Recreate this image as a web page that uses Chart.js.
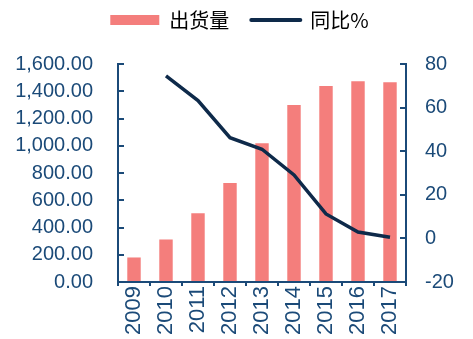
<!DOCTYPE html>
<html>
<head>
<meta charset="utf-8">
<script src="https://cdn.jsdelivr.net/npm/chart.js@4.4.1/dist/chart.umd.min.js"></script>
<style>
  html, body { margin: 0; padding: 0; background: #fff; }
  #wrap { width: 473px; height: 339px; }
</style>
</head>
<body>
<div id="wrap"><canvas id="chart" width="473" height="339"></canvas></div>
<script>
const years = ['2009', '2010', '2011', '2012', '2013', '2014', '2015', '2016', '2017']
const shipments = [180, 312, 504, 727, 1018, 1299, 1439, 1473, 1466]
const yoy = [null, 74.6, 63.2, 46.2, 40.9, 29.1, 11.2, 2.9, 0.5]
const leftTicks = [0, 1600, 200]
const rightTicks = [-20, 80, 20]

const AXIS = '#1B4A78'
const BAR = '#F47E7C'
const LINE = '#0E2A4A'

Chart.defaults.font.family = "'Liberation Sans', Arial, sans-serif"
Chart.defaults.color = AXIS

// legend spacing: keep the item row near the top, chart area starts lower
const legendSpacer = {
  id: 'legendSpacer',
  beforeInit(chart) {
    const legend = chart.legend
    const fit = legend.fit
    legend.fit = function () {
      fit.call(this)
      this.height = 76
    }
  },
}

new Chart(document.getElementById('chart'), {
  type: 'bar',
  data: {
    labels: years,
    datasets: [
      {
        type: 'line',
        label: '同比%',
        data: yoy,
        yAxisID: 'y1',
        borderColor: LINE,
        backgroundColor: LINE,
        borderWidth: 3.5,
        pointRadius: 0,
        tension: 0,
        order: 0,
      },
      {
        label: '出货量',
        data: shipments,
        yAxisID: 'y',
        backgroundColor: BAR,
        barPercentage: 0.42,
        categoryPercentage: 1,
        order: 1,
      },
    ],
  },
  options: {
    responsive: false,
    animation: false,
    layout: { padding: { top: -12, left: 6, right: 0, bottom: 0 } },
    plugins: {
      tooltip: { enabled: false },
      legend: {
        position: 'top',
        labels: {
          usePointStyle: true,
          pointStyleWidth: 49,
          boxHeight: 10,
          padding: 22,
          color: '#44546A',
          font: { family: "'Noto Sans CJK SC', sans-serif", size: 20 },
          generateLabels(chart) {
            return [
              { text: '出货量', pointStyle: 'rect', fillStyle: BAR, strokeStyle: BAR, lineWidth: 0, datasetIndex: 1 },
              { text: '同比%', pointStyle: 'line', fillStyle: LINE, strokeStyle: LINE, lineWidth: 4, lineCap: 'round', datasetIndex: 0 },
            ]
          },
        },
      },
    },
    scales: {
      x: {
        offset: true,
        grid: { display: true, offset: true, drawOnChartArea: false, drawTicks: true, tickLength: 4, color: AXIS, lineWidth: 2 },
        border: { display: true, color: AXIS, width: 2 },
        ticks: { minRotation: 90, maxRotation: 90, autoSkip: false, padding: 0, color: AXIS, font: { size: 22 } },
        afterFit(scale) { scale.height = 57 },
      },
      y: {
        position: 'left',
        min: leftTicks[0],
        max: leftTicks[1],
        ticks: {
          stepSize: leftTicks[2],
          padding: 31,
          color: AXIS,
          font: { size: 20 },
          callback: (v) => v.toLocaleString('en-US', { minimumFractionDigits: 2, maximumFractionDigits: 2 }),
        },
        grid: { display: true, drawOnChartArea: false, drawTicks: true, tickLength: -6, color: AXIS, lineWidth: 2 },
        border: { display: true, color: AXIS, width: 2 },
        afterFit(scale) { scale.width = 112 },
      },
      y1: {
        position: 'right',
        min: rightTicks[0],
        max: rightTicks[1],
        ticks: { stepSize: rightTicks[2], padding: 25, color: AXIS, font: { size: 20 } },
        grid: { display: true, drawOnChartArea: false, drawTicks: true, tickLength: -6, color: AXIS, lineWidth: 2 },
        border: { display: true, color: AXIS, width: 2 },
        afterFit(scale) { scale.width = 67 },
      },
    },
  },
  plugins: [legendSpacer],
})
</script>
</body>
</html>
